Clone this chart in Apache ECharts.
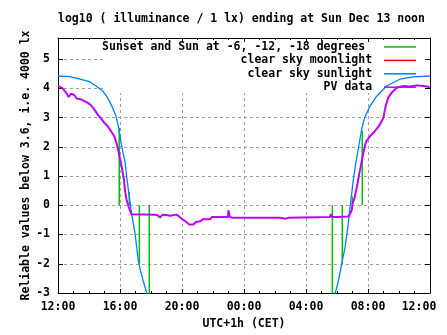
<!DOCTYPE html>
<html>
<head>
<meta charset="utf-8">
<script src="https://cdn.jsdelivr.net/npm/echarts@6/dist/echarts.min.js"></script>
<style>
  html, body { margin: 0; padding: 0; background: #fff; }
  #chart { width: 447px; height: 335px; }
</style>
</head>
<body>
<div id="chart"></div>
<script>
// hours since 12:00 (Sat) -> log10(lx)
const sunsetHours = [0, 0.73, 1.37, 2.02, 2.45, 2.88, 3.2, 3.53, 3.74, 3.92, 4.06, 4.17, 4.32, 4.43, 4.54, 4.65, 4.75, 4.86, 4.97, 5.08, 5.18, 5.34, 5.5, 5.72, 5.85];
const sunsetLog = [4.42, 4.4, 4.32, 4.23, 4.08, 3.91, 3.68, 3.33, 3.05, 2.64, 2.18, 1.85, 1.5, 1.0, 0.52, 0.1, -0.3, -0.62, -0.97, -1.45, -1.9, -2.28, -2.59, -3.0, -3.3];
const sunriseHours = [17.75, 17.87, 18.09, 18.3, 18.52, 18.73, 18.84, 18.95, 19.05, 19.2, 19.38, 19.59, 19.8, 20.13, 20.56, 21.2, 22.06, 22.92, 24];
const sunriseLog = [-3.3, -3.04, -2.59, -2.01, -1.44, -0.63, -0.06, 0.4, 0.86, 1.4, 1.95, 2.59, 3.02, 3.39, 3.73, 4.08, 4.31, 4.39, 4.42];

// sunset/sunrise and sun at -6, -12, -18 degrees
const twilightHours = [3.95, 4.6, 5.25, 5.89, 17.7, 18.34, 18.99, 19.63];
const twilightTops = [2.65, 0.46, -2.0, -3.5, -3.5, -2.0, 0.3, 2.55];

const pvHours = [0, 0.05, 0.3, 0.52, 0.69, 0.84, 1.05, 1.21, 1.48, 1.7, 1.92, 2.13, 2.34, 2.56, 2.77, 2.99, 3.21, 3.42, 3.63, 3.81, 3.9, 4.04, 4.15, 4.26, 4.32, 4.43, 4.6, 4.75,
  6.26, 6.45, 6.58, 6.75, 7.01, 7.23, 7.61, 7.74, 7.98, 8.19, 8.47, 8.73, 8.9, 9.16, 9.34, 9.81, 9.92, 10.97, 10.99, 11.06, 11.1, 11.27, 13.03, 14.32, 14.39, 14.65, 14.86,
  17.55, 17.61, 17.68, 17.76, 17.98, 18.73, 18.84, 18.95, 19.01, 19.12, 19.21, 19.31, 19.42, 19.53, 19.63, 19.74, 19.85, 19.95, 20.13, 20.34, 20.56, 20.77, 20.99,
  21.14, 21.31, 21.53, 21.85, 22.28, 22.71, 23.14, 23.57, 23.89, 24];
const pvLog = [4.08, 4.05, 4.0, 3.85, 3.7, 3.82, 3.77, 3.65, 3.62, 3.56, 3.5, 3.42, 3.28, 3.1, 2.97, 2.82, 2.7, 2.53, 2.36, 2.07, 1.85, 1.49, 1.2, 0.86, 0.52, 0.17, -0.12, -0.31,
  -0.32, -0.35, -0.42, -0.32, -0.33, -0.36, -0.32, -0.35, -0.46, -0.54, -0.66, -0.66, -0.57, -0.55, -0.48, -0.48, -0.4, -0.4, -0.17, -0.17, -0.4, -0.43, -0.43, -0.43, -0.46, -0.46, -0.43,
  -0.4, -0.3, -0.4, -0.43, -0.4, -0.38, -0.29, -0.17, 0.07, 0.23, 0.46, 0.69, 1.03, 1.32, 1.61, 1.9, 2.13, 2.24, 2.36, 2.47, 2.61, 2.76, 2.99,
  3.39, 3.68, 3.85, 4.02, 4.08, 4.06, 4.1, 4.08, 4.05, 4.03];

const xTicks = [0, 4, 8, 12, 16, 20, 24];
const xTickLabels = ["12:00", "16:00", "20:00", "00:00", "04:00", "08:00", "12:00"];

const legendNames = ["Sunset and Sun at -6, -12, -18 degrees", "clear sky moonlight", "clear sky sunlight", "PV data"];

const font = "DejaVu Sans Mono";
const textStyle = { fontFamily: font, fontWeight: "bold", fontSize: 11.5, color: "#000" };

function zip(xs, ys) {
  return xs.map((x, i) => [x, ys[i]]);
}

let twilightData = [];
twilightHours.forEach((h, i) => {
  twilightData.push([h, 0], [h, twilightTops[i]], [h, null]);
});

const chart = echarts.init(document.getElementById("chart"));

const gridLine = { show: true, lineStyle: { color: "#a0a0a0", type: [3, 3], width: 1 } };
const frameLine = { show: true, onZero: false, lineStyle: { color: "#000", width: 1 } };

let option = {
  animation: false,
  backgroundColor: "#fff",
  color: ["#00c000", "#ff0000", "#0080ff", "#c000ff"],
  title: {
    text: "log10 ( illuminance / 1 lx) ending at Sun Dec 13 noon",
    left: 58,
    top: 13,
    padding: 0,
    textStyle: textStyle,
  },
  legend: legendNames.map((name, i) => ({
    data: [name],
    right: 31,
    top: 40.5 + i * 13.4,
    align: "right",
    icon: "rect",
    itemWidth: 32,
    itemHeight: 1.5,
    padding: 0,
    selectedMode: false,
    // the first key entry sits one character further left
    formatter: (n) => (i === 0 ? n + "  " : n + " "),
    textStyle: Object.assign({ lineHeight: 13 }, textStyle),
  })),
  graphic: [
    {
      type: "rect",
      z: 1,
      shape: { x: 103, y: 39, width: 326, height: 54 },
      style: { fill: "#fff" },
    },
  ],
  grid: { left: 58, right: 17, top: 38, bottom: 42 },
  xAxis: [
    {
      type: "value",
      min: 0,
      max: 24,
      interval: 4,
      z: 0,
      name: "UTC+1h (CET)",
      nameLocation: "middle",
      nameGap: 25,
      nameMoveOverlap: false,
      nameTextStyle: textStyle,
      axisLine: frameLine,
      axisTick: { show: true, inside: true, length: 4, lineStyle: { color: "#000" } },
      minorTick: { show: true, splitNumber: 4, length: 2, lineStyle: { color: "#000" } },
      splitLine: gridLine,
      axisLabel: Object.assign({}, textStyle, {
        margin: 8,
        formatter: (v) => {
          const i = xTicks.indexOf(v);
          if (i < 0) return "";
          return i === xTicks.length - 1 ? "{last|" + xTickLabels[i] + "}" : xTickLabels[i];
        },
        rich: { last: Object.assign({ padding: [0, 22, 0, 0] }, textStyle) },
      }),
    },
    {
      type: "value",
      position: "top",
      min: 0,
      max: 24,
      interval: 4,
      z: 3,
      axisLine: frameLine,
      axisTick: { show: true, inside: true, length: 4, lineStyle: { color: "#000" } },
      minorTick: { show: true, splitNumber: 4, length: 2, lineStyle: { color: "#000" } },
      splitLine: { show: false },
      axisLabel: { show: false },
    },
  ],
  yAxis: [
    {
      type: "value",
      min: -3,
      max: 5.72,
      interval: 1,
      z: 0,
      name: "Reliable values below 3.6, i.e. 4000 lx",
      nameLocation: "middle",
      nameGap: 26,
      nameMoveOverlap: false,
      nameTextStyle: textStyle,
      axisLine: frameLine,
      axisTick: { show: true, inside: true, length: 5, lineStyle: { color: "#000" } },
      splitLine: gridLine,
      axisLabel: Object.assign({}, textStyle, { margin: 8, showMaxLabel: false }),
    },
    {
      type: "value",
      position: "right",
      min: -3,
      max: 5.72,
      interval: 1,
      z: 3,
      axisLine: frameLine,
      axisTick: { show: true, inside: true, length: 5, lineStyle: { color: "#000" } },
      splitLine: { show: false },
      axisLabel: { show: false },
    },
  ],
  series: [
    {
      name: legendNames[0],
      type: "line",
      data: twilightData,
      showSymbol: false,
      connectNulls: false,
      lineStyle: { width: 1.5 },
      z: 2,
    },
    {
      name: legendNames[1],
      type: "line",
      data: [],
      showSymbol: false,
      lineStyle: { width: 1.5 },
      z: 2,
    },
    {
      name: legendNames[2],
      type: "line",
      data: zip(sunsetHours, sunsetLog),
      showSymbol: false,
      lineStyle: { width: 1.3 },
      z: 2,
    },
    {
      name: legendNames[2],
      type: "line",
      data: zip(sunriseHours, sunriseLog),
      showSymbol: false,
      lineStyle: { width: 1.3 },
      z: 2,
    },
    {
      name: legendNames[3],
      type: "line",
      data: zip(pvHours, pvLog),
      showSymbol: false,
      lineStyle: { width: 2 },
      z: 2,
    },
  ],
};
chart.setOption(option);
</script>
</body>
</html>
